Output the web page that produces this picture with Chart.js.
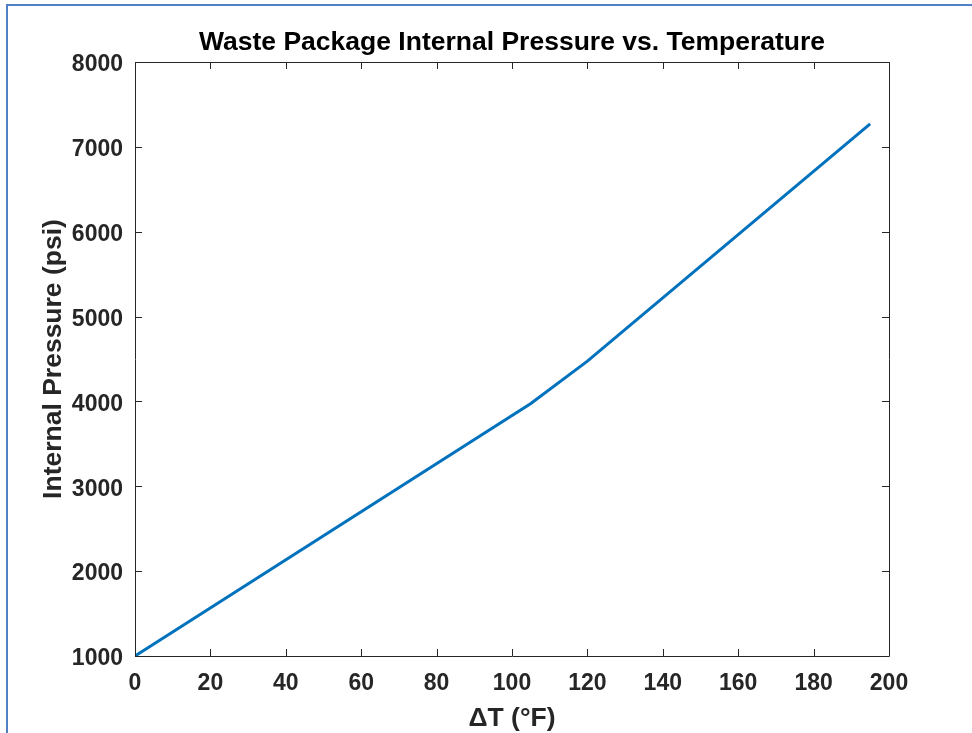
<!DOCTYPE html>
<html>
<head>
<meta charset="utf-8">
<script src="https://cdn.jsdelivr.net/npm/chart.js@4.4.1/dist/chart.umd.min.js"></script>
<style>
  html, body { margin: 0; padding: 0; background: #ffffff; overflow: hidden; }
  #wrap { position: relative; width: 972px; height: 733px; }
  #frame { position: absolute; left: 6px; top: 4px; width: 1000px; height: 800px;
           border-left: 2px solid #4f81c4; border-top: 2px solid #4f81c4; pointer-events: none; }
  canvas { position: absolute; left: 0; top: 0; }
</style>
</head>
<body>
<div id="wrap">
  <canvas id="c" width="972" height="733"></canvas>
  <div id="frame"></div>
</div>
<script>
// ---- data ----
const deltaT = [0, 105, 120, 195];            // °F
const pressure = [1000, 3975, 4475, 7270];    // psi
const xTicks = [0, 20, 40, 60, 80, 100, 120, 140, 160, 180, 200];
const yTicks = [1000, 2000, 3000, 4000, 5000, 6000, 7000, 8000];
const titleText = 'Waste Package Internal Pressure vs. Temperature';
const xLabel = '\u0394T (\u00B0F)';
const yLabel = 'Internal Pressure (psi)';

const FONT = "'Liberation Sans', Arial, Helvetica, sans-serif";
const TEXT = '#262626';

const boxPlugin = {
  id: 'boxPlugin',
  afterDraw(chart) {
    const { ctx, chartArea: a, scales } = chart;
    ctx.save();
    ctx.strokeStyle = '#262626';
    ctx.lineWidth = 1;
    ctx.beginPath();
    ctx.rect(Math.round(a.left) + 0.5, Math.round(a.top) + 0.5,
             Math.round(a.right - a.left), Math.round(a.bottom - a.top));
    ctx.stroke();
    const tl = 7;
    ctx.beginPath();
    xTicks.forEach(v => {
      const px = Math.round(scales.x.getPixelForValue(v)) + 0.5;
      ctx.moveTo(px, a.bottom); ctx.lineTo(px, a.bottom - tl);
      ctx.moveTo(px, a.top); ctx.lineTo(px, a.top + tl);
    });
    yTicks.forEach(v => {
      const py = Math.round(scales.y.getPixelForValue(v)) + 0.5;
      ctx.moveTo(a.left, py); ctx.lineTo(a.left + tl, py);
      ctx.moveTo(a.right, py); ctx.lineTo(a.right - tl, py);
    });
    ctx.stroke();
    // title
    ctx.fillStyle = '#000000';
    ctx.font = 'bold 26.5px ' + FONT;
    ctx.textAlign = 'center';
    ctx.textBaseline = 'alphabetic';
    ctx.fillText(titleText, (a.left + a.right) / 2, 50);
    // x label
    ctx.fillStyle = TEXT;
    ctx.font = 'bold 26.5px ' + FONT;
    ctx.fillText(xLabel, (a.left + a.right) / 2, 726);
    // y label
    ctx.save();
    ctx.translate(61, (a.top + a.bottom) / 2);
    ctx.rotate(-Math.PI / 2);
    ctx.fillText(yLabel, 0, 0);
    ctx.restore();
    ctx.restore();
  }
};

new Chart(document.getElementById('c'), {
  type: 'scatter',
  data: {
    datasets: [{
      data: deltaT.map((x, i) => ({ x: x, y: pressure[i] })),
      showLine: true,
      borderColor: '#0072BD',
      backgroundColor: '#0072BD',
      borderWidth: 3,
      pointRadius: 0,
      tension: 0
    }]
  },
  options: {
    responsive: false,
    animation: false,
    devicePixelRatio: 1,
    layout: { padding: { top: 62, right: 83, left: 0, bottom: 0 } },
    plugins: { legend: { display: false }, tooltip: { enabled: false }, title: { display: false } },
    scales: {
      x: {
        type: 'linear', min: 0, max: 200,
        afterBuildTicks: s => { s.ticks = xTicks.map(v => ({ value: v })); },
        afterFit: s => { s.height = 77; },
        grid: { display: false, drawTicks: false },
        border: { display: false },
        ticks: { color: TEXT, font: { family: FONT, size: 23, weight: 'bold' }, padding: 14, maxRotation: 0,
                 callback: v => String(v) }
      },
      y: {
        type: 'linear', min: 1000, max: 8000,
        afterBuildTicks: s => { s.ticks = yTicks.map(v => ({ value: v })); },
        afterFit: s => { s.width = 135; },
        grid: { display: false, drawTicks: false },
        border: { display: false },
        ticks: { color: TEXT, font: { family: FONT, size: 23, weight: 'bold' }, padding: 12, labelOffset: 3,
                 callback: v => String(v) }
      }
    }
  },
  plugins: [boxPlugin]
});
</script>
</body>
</html>
